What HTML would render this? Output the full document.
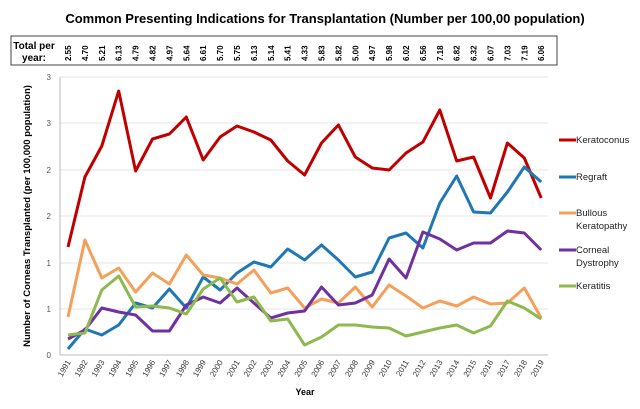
<!DOCTYPE html>
<html><head><meta charset="utf-8"><style>
body{margin:0;background:#fff;width:640px;height:404px;overflow:hidden;font-family:"Liberation Sans",sans-serif}
</style></head><body>
<svg width="640" height="404" xmlns="http://www.w3.org/2000/svg" font-family="Liberation Sans, sans-serif">
<text x="325" y="23" text-anchor="middle" font-size="13" font-weight="bold">Common Presenting Indications for Transplantation (Number per 100,00 population)</text>
<rect x="11" y="36" width="546" height="29" fill="none" stroke="#444" stroke-width="1"/>
<text x="34" y="49" text-anchor="middle" font-size="10" font-weight="bold">Total per</text>
<text x="34" y="61" text-anchor="middle" font-size="10" font-weight="bold">year:</text>
<g font-size="8" font-weight="bold" id="tot"></g>
<g stroke="#e4e4e4" stroke-width="1" id="grid"></g>
<line x1="60" y1="355" x2="548" y2="355" stroke="#bbb"/>
<line x1="60" y1="77" x2="60" y2="355" stroke="#bbb"/>
<g font-size="8" fill="#555" text-anchor="end">
<text x="51" y="80">3</text><text x="51" y="126">3</text><text x="51" y="173">2</text><text x="51" y="219">2</text><text x="51" y="266">1</text><text x="51" y="312">1</text><text x="51" y="358">0</text></g>
<text transform="translate(30,216) rotate(-90)" text-anchor="middle" font-size="9.5" font-weight="bold">Number of Corneas Transplanted (per 100,000 population)</text>
<g font-size="8" fill="#333" id="xl"></g>
<text x="305" y="395" text-anchor="middle" font-size="9" font-weight="bold">Year</text>
<g fill="none" stroke-width="3" stroke-linejoin="round" id="ser"></g>
<g font-size="9.5" fill="#222">
<line x1="559" y1="140" x2="576" y2="140" stroke="#c00000" stroke-width="3"/><text x="576" y="143">Keratoconus</text>
<line x1="559" y1="177" x2="576" y2="177" stroke="#1f77b4" stroke-width="3"/><text x="576" y="180">Regraft</text>
<line x1="559" y1="213" x2="576" y2="213" stroke="#f5a05a" stroke-width="3"/><text x="576" y="216">Bullous</text><text x="576" y="229">Keratopathy</text>
<line x1="559" y1="250" x2="576" y2="250" stroke="#7030a0" stroke-width="3"/><text x="576" y="253">Corneal</text><text x="576" y="266">Dystrophy</text>
<line x1="559" y1="286" x2="576" y2="286" stroke="#8db94e" stroke-width="3"/><text x="576" y="289">Keratitis</text>
</g>
</svg>
<script>
const ns="http://www.w3.org/2000/svg";
function el(t,a,p,txt){const e=document.createElementNS(ns,t);for(const k in a)e.setAttribute(k,a[k]);if(txt)e.textContent=txt;p.appendChild(e);return e;}
const X=i=>68+i*16.9;
const tots="2.55 4.70 5.21 6.13 4.79 4.82 4.97 5.64 6.61 5.70 5.75 6.13 5.14 5.41 4.33 5.83 5.82 5.00 4.97 5.98 6.02 6.56 7.18 6.82 6.32 6.07 7.03 7.19 6.06".split(" ");
const tg=document.getElementById("tot"),xl=document.getElementById("xl"),g=document.getElementById("grid"),s=document.getElementById("ser");
tots.forEach((v,i)=>{el("text",{transform:`translate(${X(i)+3},61) rotate(-90)`},tg,v);
el("text",{transform:`translate(${X(i)+3},362) rotate(-60)`,"text-anchor":"end"},xl,String(1991+i));});
[77,123,170,216,263,309].forEach(y=>el("line",{x1:60,x2:548,y1:y,y2:y},g));
const D={
"#c00000":[247,177,146,91,171,139,134,117,160,137,126,132,140,161,175,143,125,157,168,170,153,142,110,161,157,198,143,158,198],
"#1f77b4":[349,329,335,325,303,308,289,308,277,290,273,262,267,249,260,245,260,277,272,238,233,248,203,176,212,213,192,167,182],
"#f5a05a":[317,240,278,268,292,273,284,255,275,278,284,270,293,288,308,299,303,287,307,285,296,308,301,306,297,304,303,288,318],
"#7030a0":[339,330,308,312,315,331,331,305,297,303,288,303,318,313,311,287,305,303,295,259,278,232,239,250,243,243,231,233,250],
"#8db94e":[335,333,290,276,307,306,308,314,289,278,302,297,321,319,345,337,325,325,327,328,336,332,328,325,333,326,301,308,319]};
for(const c in D)el("polyline",{stroke:c,points:D[c].map((y,i)=>X(i)+","+y).join(" ")},s);
</script>
</body></html>
